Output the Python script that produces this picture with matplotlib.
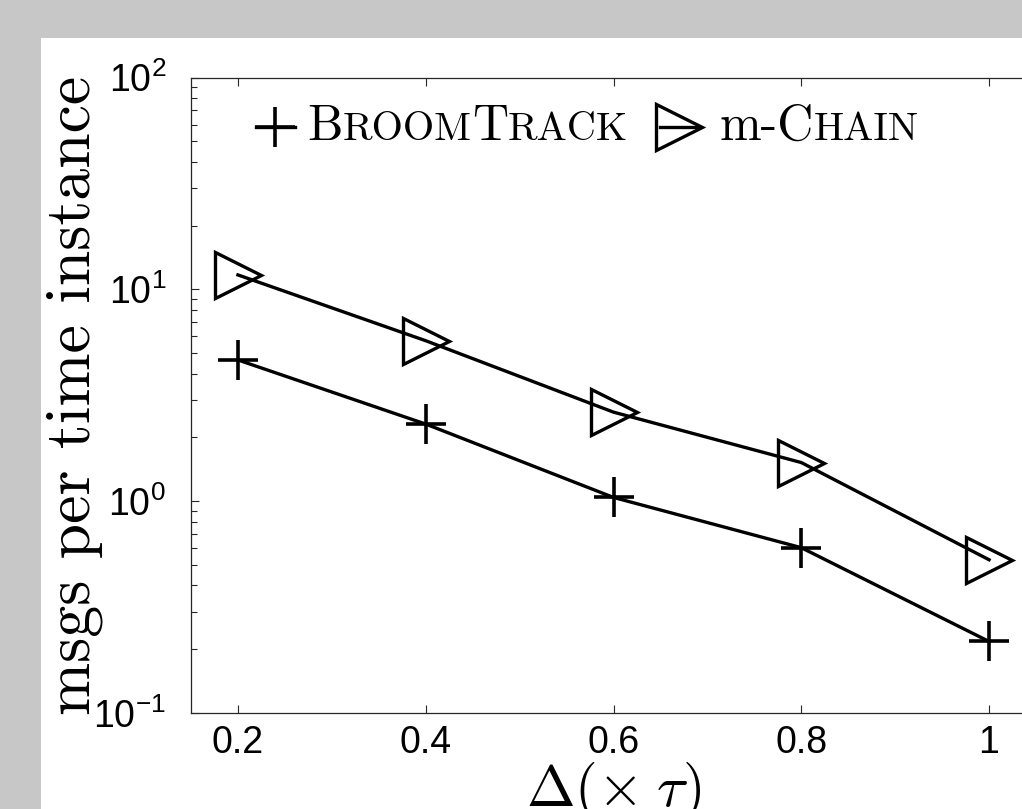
import matplotlib
matplotlib.use("Agg")
import matplotlib.pyplot as plt
from matplotlib.patches import Rectangle
from matplotlib.lines import Line2D
from matplotlib.offsetbox import AnchoredOffsetbox, HPacker, TextArea, DrawingArea
from matplotlib.ticker import LogLocator, NullFormatter, FixedLocator

# data
delta = [0.2, 0.4, 0.6, 0.8, 1.0]
broomtrack = [4.64, 2.31, 1.04, 0.602, 0.217]
mchain = [11.7, 5.72, 2.63, 1.52, 0.528]
xtick_vals = [0.2, 0.4, 0.6, 0.8, 1.0]
xtick_labels = ["0.2", "0.4", "0.6", "0.8", "1"]

plt.rcParams['font.family'] = ['Liberation Sans', 'DejaVu Sans']
plt.rcParams['mathtext.fontset'] = 'cm'

W, H = 1022, 809
fig = plt.figure(figsize=(W / 100, H / 100), dpi=100, facecolor='#c6c7c6')
# white sheet, cropped on the right and bottom like the screenshot
fig.patches.append(Rectangle((41 / W, 0), 1, 1 - 38 / H, transform=fig.transFigure,
                             facecolor='white', edgecolor='none', zorder=-10))

ax = fig.add_axes([191 / W, 96.3 / H, 845 / W, 635 / H])
ax.set_facecolor('white')

ax.plot(delta, broomtrack, color='black', lw=2.4, marker='+', ms=29, mew=2.6)
ax.plot(delta, mchain, color='black', lw=2.4, marker='>', ms=33, mew=2.4,
        mfc='none', mec='black')

ax.set_yscale('log')
ax.set_ylim(0.1, 100)
ax.set_xlim(0.15, 1.05)
ax.xaxis.set_major_locator(FixedLocator(xtick_vals))
ax.set_xticklabels(xtick_labels)
ax.yaxis.set_major_locator(LogLocator(base=10, numticks=10))
ax.yaxis.set_minor_locator(LogLocator(base=10, subs=range(2, 10), numticks=20))
ax.yaxis.set_minor_formatter(NullFormatter())

for s in ax.spines.values():
    s.set_linewidth(0.9)
    s.set_color('#262626')
ax.tick_params(which='both', direction='in', top=True, right=True, color='#262626', width=0.8)
ax.tick_params(which='major', length=6)
ax.tick_params(which='minor', length=4)
ax.tick_params(axis='x', which='major', labelsize=27, pad=9)
ax.tick_params(axis='y', which='major', labelsize=27, pad=18)

ax.set_ylabel('msgs per time instance', fontsize=46, family='cmr10')
ax.yaxis.set_label_coords(-0.104, 0.5)
ax.set_xlabel(r'$\Delta(\times\;\tau)$', fontsize=42)
ax.xaxis.set_label_coords(0.5, -0.075)
ax.xaxis.label.set_va('top')


def marker_box(marker, ms, mew):
    da = DrawingArea(32, 36, 0, 0)
    da.add_artist(Line2D([2, 30], [18, 18], color='black', lw=2.4))
    da.add_artist(Line2D([16], [18], color='black', marker=marker, ms=ms, mew=mew,
                         mfc='none', mec='black', linestyle='none'))
    return da


def small_caps(parts):
    # parts: (text, is_big)
    boxes = [TextArea(t, textprops=dict(family='cmr10', fontsize=36 if big else 29,
                                        color='black'))
             for t, big in parts]
    return HPacker(children=boxes, align='baseline', pad=0, sep=0)


def gap(w):
    return DrawingArea(w, 1, 0, 0)


legend_row = HPacker(children=[
    marker_box('+', 29, 2.6), gap(7),
    small_caps([('B', True), ('ROOM', False), ('T', True), ('RACK', False)]),
    gap(21),
    marker_box('>', 33, 2.4), gap(13),
    small_caps([('m-C', True), ('HAIN', False)]),
], align='center', pad=0, sep=0)

leg = AnchoredOffsetbox(loc='center left', child=legend_row, pad=0, borderpad=0,
                        frameon=False, bbox_to_anchor=((253 - 191) / 845, (712.7 - 127) / 635),
                        bbox_transform=ax.transAxes)
ax.add_artist(leg)

fig.savefig('out.png', dpi=100, facecolor=fig.get_facecolor())
